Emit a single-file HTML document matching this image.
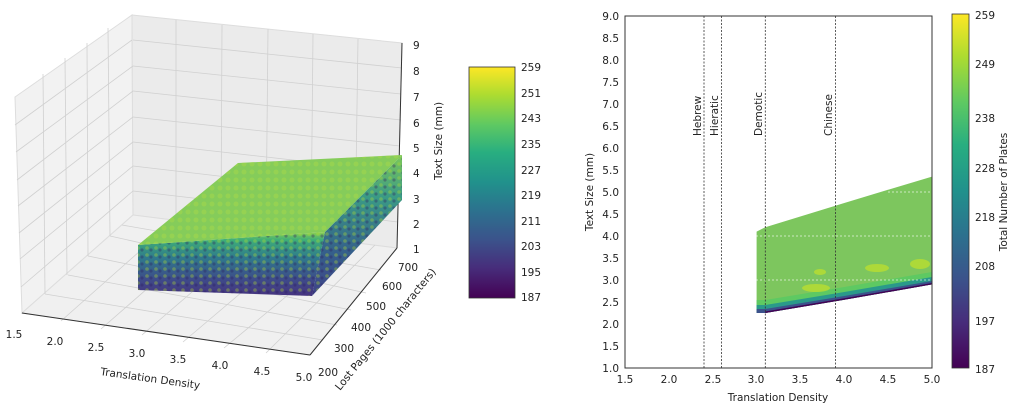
<!DOCTYPE html>
<html><head><meta charset="utf-8"><style>
body{margin:0;background:#fff;width:1024px;height:413px;overflow:hidden;font-family:"Liberation Sans",sans-serif}
svg text{font-family:"DejaVu Sans","Liberation Sans",sans-serif;font-size:10.5px;fill:#222}
</style></head><body>
<svg width="1024" height="413" viewBox="0 0 1024 413">
<defs>
<linearGradient id="vir" x1="0" y1="1" x2="0" y2="0">
<stop offset="0" stop-color="#440154"/><stop offset="0.13" stop-color="#472d7b"/><stop offset="0.25" stop-color="#3b528b"/><stop offset="0.38" stop-color="#2c728e"/><stop offset="0.5" stop-color="#21918c"/><stop offset="0.63" stop-color="#28ae80"/><stop offset="0.75" stop-color="#5ec962"/><stop offset="0.88" stop-color="#addc30"/><stop offset="1" stop-color="#fde725"/></linearGradient>
<linearGradient id="front" x1="0" y1="0" x2="0" y2="1">
<stop offset="0" stop-color="#8fd14f"/><stop offset="0.12" stop-color="#3fae78"/><stop offset="0.4" stop-color="#2f7a8c"/><stop offset="0.75" stop-color="#3e4a89"/><stop offset="1" stop-color="#463480"/></linearGradient>
<linearGradient id="side" x1="0" y1="0" x2="0" y2="1">
<stop offset="0" stop-color="#7cc85a"/><stop offset="0.3" stop-color="#3a9a86"/><stop offset="0.7" stop-color="#355e8b"/><stop offset="1" stop-color="#3f4388"/></linearGradient>
<pattern id="dots" width="8" height="8" patternUnits="userSpaceOnUse"><circle cx="4" cy="4" r="2.5" fill="#a6d84a" opacity="0.5"/></pattern>
<pattern id="dots2" width="9" height="7" patternUnits="userSpaceOnUse"><circle cx="3" cy="3" r="1.8" fill="#b5de2b" opacity="0.35"/><circle cx="7" cy="5" r="1.6" fill="#2a1a5e" opacity="0.35"/></pattern>
</defs>
<!-- 3D panes -->
<polygon points="15,97 132,15 133,215 22,313" fill="#f2f2f2" stroke="#ddd"/>
<polygon points="132,15 402,43 397,248 133,215" fill="#ebebeb" stroke="#ddd"/>
<polygon points="22,313 133,215 397,248 310,355" fill="#f0f0f0" stroke="#ddd"/>
<g stroke="#d0d0d0" stroke-width="0.8">
<line x1="176" y1="20" x2="176" y2="221"/><line x1="222" y1="25" x2="221" y2="226"/><line x1="268" y1="29" x2="266" y2="232"/><line x1="313" y1="34" x2="311" y2="237"/><line x1="358" y1="39" x2="355" y2="243"/>
<line x1="133" y1="40" x2="402" y2="68"/><line x1="133" y1="66" x2="401" y2="94"/><line x1="133" y1="91" x2="401" y2="120"/><line x1="133" y1="117" x2="400" y2="146"/><line x1="133" y1="142" x2="399" y2="172"/><line x1="133" y1="166" x2="399" y2="197"/><line x1="133" y1="191" x2="398" y2="222"/>
<line x1="15" y1="125" x2="132" y2="40"/><line x1="16" y1="152" x2="133" y2="66"/><line x1="17" y1="180" x2="133" y2="91"/><line x1="18" y1="206" x2="133" y2="117"/><line x1="19" y1="233" x2="133" y2="142"/><line x1="20" y1="259" x2="133" y2="166"/><line x1="21" y1="287" x2="133" y2="191"/>
<line x1="108" y1="28" x2="110" y2="236"/><line x1="87" y1="43" x2="88" y2="256"/><line x1="65" y1="58" x2="67" y2="275"/><line x1="43" y1="74" x2="45" y2="294"/>
<line x1="61" y1="321" x2="175" y2="220"/><line x1="101" y1="329" x2="219" y2="226"/><line x1="142" y1="335" x2="263" y2="231"/><line x1="183" y1="342" x2="307" y2="237"/><line x1="224" y1="348" x2="352" y2="242"/><line x1="266" y1="353" x2="375" y2="245"/>
<line x1="323" y1="340" x2="45" y2="294"/><line x1="337" y1="325" x2="68" y2="275"/><line x1="351" y1="310" x2="88" y2="256"/><line x1="366" y1="293" x2="110" y2="236"/><line x1="381" y1="270" x2="122" y2="225"/>
</g>
<line x1="22" y1="313" x2="310" y2="355" stroke="#333"/><line x1="310" y1="355" x2="397" y2="248" stroke="#333"/><line x1="402" y1="43" x2="397" y2="248" stroke="#333"/>
<!-- data block -->
<polygon points="138,245 325,232 312,296 138,290" fill="url(#front)"/>
<polygon points="138,245 325,232 312,296 138,290" fill="url(#dots2)"/>
<polygon points="325,232 402,155 402,200 312,296" fill="url(#side)"/>
<polygon points="325,232 402,155 402,200 312,296" fill="url(#dots2)"/>
<polygon points="138,245 238,163 402,155 325,232" fill="#85cc5a"/>
<polygon points="138,245 238,163 402,155 325,232" fill="url(#dots)"/>
<!-- 3D tick labels -->
<g text-anchor="middle">
<text x="14" y="338">1.5</text><text x="55" y="345">2.0</text><text x="96" y="351">2.5</text><text x="137" y="357">3.0</text><text x="178" y="363">3.5</text><text x="220" y="369">4.0</text><text x="262" y="375">4.5</text><text x="304" y="381">5.0</text>
</g>
<text x="100" y="375" transform="rotate(8 100 375)">Translation Density</text>
<g>
<text x="318" y="376">200</text><text x="334" y="352">300</text><text x="351" y="331">400</text><text x="366" y="310">500</text><text x="382" y="290">600</text><text x="398" y="271">700</text>
</g>
<text x="340" y="391" transform="rotate(-51 340 391)">Lost Pages (1000 characters)</text>
<g>
<text x="413" y="49">9</text><text x="413" y="75">8</text><text x="413" y="101">7</text><text x="413" y="127">6</text><text x="413" y="152">5</text><text x="413" y="177">4</text><text x="413" y="203">3</text><text x="413" y="228">2</text><text x="413" y="253">1</text>
</g>
<text x="442" y="180" transform="rotate(-90 442 180)">Text Size (mm)</text>
<!-- left colorbar -->
<rect x="469" y="67" width="46" height="231" fill="url(#vir)" stroke="#333" stroke-width="0.8"/>
<g>
<text x="521" y="71">259</text><text x="521" y="97">251</text><text x="521" y="122">243</text><text x="521" y="148">235</text><text x="521" y="174">227</text><text x="521" y="199">219</text><text x="521" y="225">211</text><text x="521" y="250">203</text><text x="521" y="276">195</text><text x="521" y="301">187</text>
</g>
<!-- right heatmap -->
<polygon points="756.6,313 756.6,231.6 765.3,227.2 844.3,203 888,189.8 932,176.6 932,284.4 844.3,299.8 765.3,313" fill="#7dc65e"/>
<polygon points="756.6,300 765.3,300 844.3,287 932,272 932,284.4 844.3,299.8 765.3,313 756.6,313" fill="#5ec962"/>
<polygon points="756.6,305 765.3,305 844.3,292 932,277 932,284.4 844.3,299.8 765.3,313 756.6,313" fill="#2a9a8a"/>
<polygon points="756.6,309 765.3,309 844.3,296 932,281 932,284.4 844.3,299.8 765.3,313 756.6,313" fill="#3b528b"/>
<polygon points="765.3,311.5 844.3,298.3 932,283 932,284.4 844.3,299.8 765.3,313" fill="#440154"/>
<g fill="#b9de30" opacity="0.8">
<ellipse cx="816" cy="288" rx="14" ry="4"/><ellipse cx="877" cy="268" rx="12" ry="4"/><ellipse cx="920" cy="264" rx="10" ry="5"/><ellipse cx="820" cy="272" rx="6" ry="3"/></g>
<g stroke="#fff" stroke-dasharray="2,2" stroke-width="0.8" opacity="0.8">
<line x1="756" y1="280" x2="932" y2="280"/><line x1="756" y1="236" x2="932" y2="236"/><line x1="888" y1="192" x2="932" y2="192"/></g>
<g stroke="#333" stroke-dasharray="2,1.5" stroke-width="0.8">
<line x1="704" y1="16" x2="704" y2="368"/><line x1="721.5" y1="16" x2="721.5" y2="368"/><line x1="765.3" y1="16" x2="765.3" y2="368"/><line x1="835.5" y1="16" x2="835.5" y2="368"/></g>
<g>
<text transform="translate(701 136) rotate(-90)">Hebrew</text>
<text transform="translate(718 136) rotate(-90)">Hieratic</text>
<text transform="translate(762 136) rotate(-90)">Demotic</text>
<text transform="translate(832 136) rotate(-90)">Chinese</text>
</g>
<rect x="625" y="16" width="307" height="352" fill="none" stroke="#333" stroke-width="1"/>
<g text-anchor="end">
<text x="619" y="20">9.0</text><text x="619" y="42">8.5</text><text x="619" y="64">8.0</text><text x="619" y="86">7.5</text><text x="619" y="108">7.0</text><text x="619" y="130">6.5</text><text x="619" y="152">6.0</text><text x="619" y="174">5.5</text><text x="619" y="196">5.0</text><text x="619" y="218">4.5</text><text x="619" y="240">4.0</text><text x="619" y="262">3.5</text><text x="619" y="284">3.0</text><text x="619" y="306">2.5</text><text x="619" y="328">2.0</text><text x="619" y="350">1.5</text><text x="619" y="372">1.0</text>
</g>
<g text-anchor="middle">
<text x="625" y="383">1.5</text><text x="669" y="383">2.0</text><text x="713" y="383">2.5</text><text x="756" y="383">3.0</text><text x="800" y="383">3.5</text><text x="844" y="383">4.0</text><text x="888" y="383">4.5</text><text x="932" y="383">5.0</text>
</g>
<text x="778" y="401" text-anchor="middle">Translation Density</text>
<text x="593" y="192" text-anchor="middle" transform="rotate(-90 593 192)">Text Size (mm)</text>
<!-- right colorbar -->
<rect x="952" y="14" width="17" height="354" fill="url(#vir)" stroke="#333" stroke-width="0.8"/>
<g>
<text x="975" y="19">259</text><text x="975" y="68">249</text><text x="975" y="122">238</text><text x="975" y="172">228</text><text x="975" y="221">218</text><text x="975" y="270">208</text><text x="975" y="325">197</text><text x="975" y="373">187</text>
</g>
<text x="1007" y="192" text-anchor="middle" transform="rotate(-90 1007 192)">Total Number of Plates</text>
</svg>
</body></html>
